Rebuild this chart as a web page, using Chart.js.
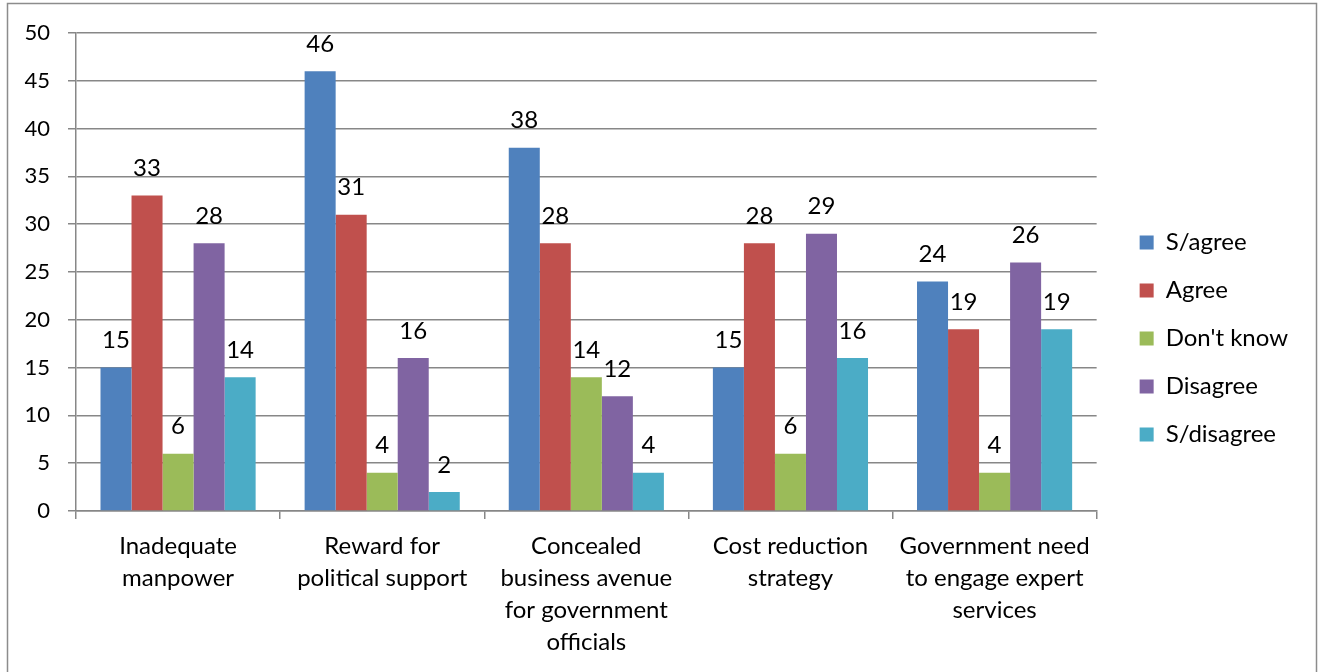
<!DOCTYPE html>
<html>
<head>
<meta charset="utf-8">
<script src="https://cdn.jsdelivr.net/npm/chart.js@4.4.1/dist/chart.umd.min.js"></script>
<style>
    html, body { margin: 0; padding: 0; background: #fff; }
    #wrap { position: relative; width: 1322px; height: 672px; overflow: hidden; }
</style>
</head>
<body>
<div id="wrap"><canvas id="surveyChart" width="1322" height="672"></canvas></div>
<script>
// Respuestas por categoría
const categories = [
    ["Inadequate", "manpower"],
    ["Reward for", "political support"],
    ["Concealed", "business avenue", "for government", "officials"],
    ["Cost reduction", "strategy"],
    ["Government need", "to engage expert", "services"]
];
const seriesNames = ["S/agree", "Agree", "Don't know", "Disagree", "S/disagree"];
const sAgree = [15, 46, 38, 15, 24];
const agree = [33, 31, 28, 28, 19];
const dontKnow = [6, 4, 14, 6, 4];
const disagree = [28, 16, 12, 29, 26];
const sDisagree = [14, 2, 4, 16, 19];
const yTicks = [0, 5, 10, 15, 20, 25, 30, 35, 40, 45, 50];

const seriesColors = ["#4F81BD", "#C0504D", "#9BBB59", "#8064A2", "#4BACC6"];
const FONT = "Lato, 'Open Sans', sans-serif";
const GRID = "#878787";

// Etiquetas de valor encima de cada barra
const valueLabels = {
    id: "valueLabels",
    afterDatasetsDraw(chart) {
        const ctx = chart.ctx;
        ctx.save();
        ctx.font = "24px " + FONT;
        ctx.fillStyle = "#000";
        ctx.textAlign = "center";
        ctx.textBaseline = "middle";
        chart.data.datasets.forEach((ds, i) => {
            chart.getDatasetMeta(i).data.forEach((bar, j) => {
                ctx.fillText(String(ds.data[j]), bar.x, bar.y - 27);
            });
        });
        ctx.restore();
    }
};

// Marco gris alrededor del gráfico y ajuste de la leyenda
const frame = {
    id: "frame",
    afterLayout(chart) {
        const lg = chart.legend;
        lg.left += 19;
        lg.right += 19;
        lg.top -= 14;
        lg.bottom -= 14;
    },
    afterDraw(chart) {
        const ctx = chart.ctx;
        ctx.save();
        ctx.strokeStyle = "#8c8c8c";
        ctx.lineWidth = 1.5;
        ctx.strokeRect(7.5, 3.5, 1309, 700);
        ctx.restore();
    }
};

const datasets = [sAgree, agree, dontKnow, disagree, sDisagree].map((values, i) => ({
    label: seriesNames[i],
    data: values,
    backgroundColor: seriesColors[i],
    borderWidth: 0,
    categoryPercentage: 0.76,
    barPercentage: 1
}));

new Chart(document.getElementById("surveyChart"), {
    type: "bar",
    data: { labels: categories, datasets: datasets },
    plugins: [valueLabels, frame],
    options: {
        responsive: false,
        animation: false,
        layout: { padding: { top: 33, bottom: 0, left: 0, right: 43 } },
        plugins: {
            tooltip: { enabled: false },
            legend: {
                position: "right",
                labels: {
                    boxWidth: 14,
                    boxHeight: 14,
                    padding: 24,
                    color: "#000",
                    font: { family: FONT, size: 24 }
                }
            }
        },
        scales: {
            x: {
                offset: true,
                grid: { offset: true, drawOnChartArea: false, drawTicks: true, tickLength: 8, color: GRID, lineWidth: 1.5 },
                border: { color: GRID, width: 1.5 },
                ticks: {
                    color: "#000",
                    padding: 11,
                    maxRotation: 0,
                    autoSkip: false,
                    font: { family: FONT, size: 24, lineHeight: 32 / 24 }
                },
                afterFit(scale) { scale.height = 161; }
            },
            y: {
                min: 0,
                max: 50,
                afterBuildTicks(scale) { scale.ticks = yTicks.map(v => ({ value: v })); },
                grid: { color: GRID, lineWidth: 1.5, tickLength: 8 },
                border: { color: GRID, width: 1.5 },
                ticks: {
                    color: "#000",
                    padding: 18,
                    font: { family: FONT, size: 22 }
                },
                afterFit(scale) { scale.width = 76; }
            }
        }
    }
});
</script>
</body>
</html>
